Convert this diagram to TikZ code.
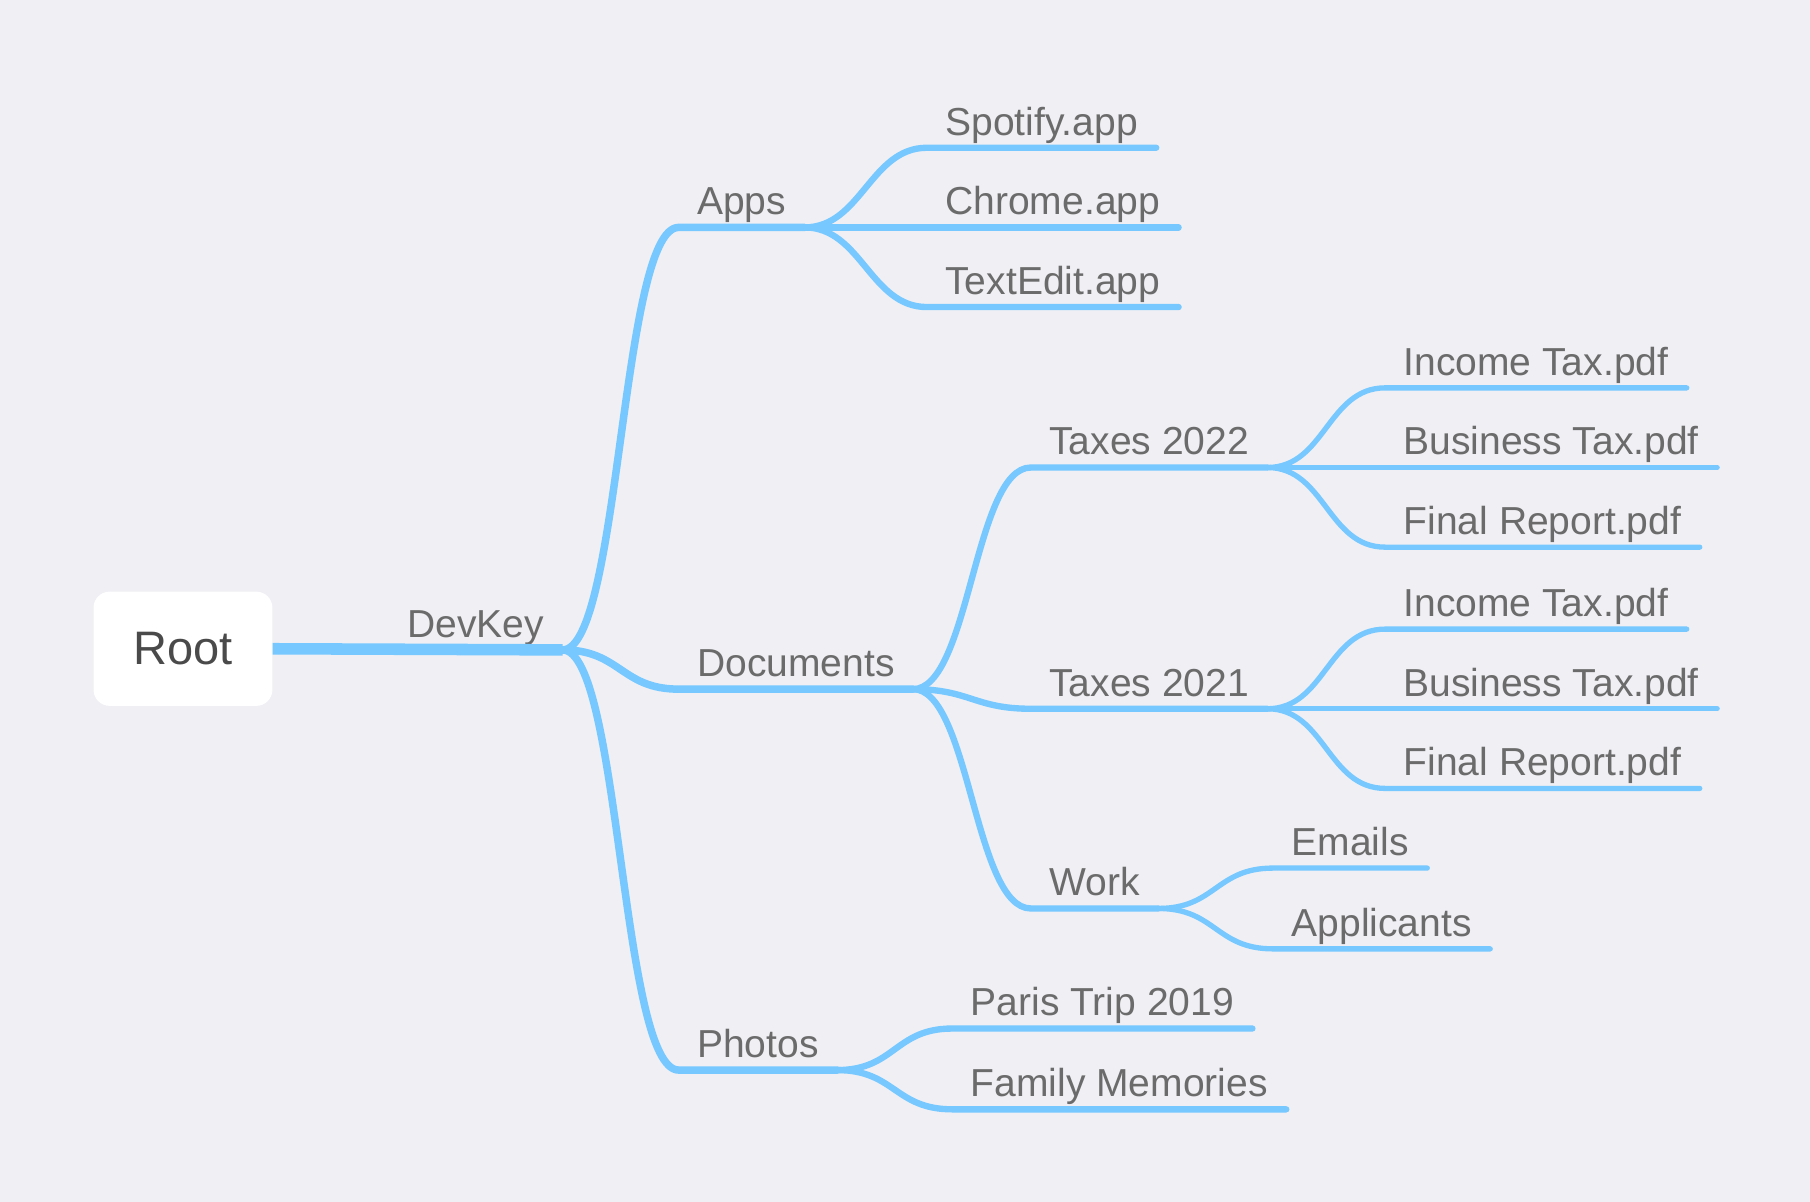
\documentclass[tikz,border=0pt]{standalone}
\usepackage{fontspec}
\setmainfont{Liberation Sans}
\usepackage{xcolor}
\usepackage{tikz}
\usetikzlibrary{calc}

\definecolor{bgcol}{HTML}{EFEFF4}
\definecolor{linkblue}{HTML}{76C8FF}
\definecolor{txtgray}{HTML}{6B6B6B}
\definecolor{rootgray}{HTML}{4A4A4A}

\tikzset{
  lbl/.style={anchor=south west, inner xsep=16pt, inner ysep=11pt, outer sep=0pt,
              text depth=0pt, text=txtgray, font=\fontsize{33.8}{40}\selectfont},
  wone/.style={draw=linkblue, line width=10pt},
  wtwo/.style={draw=linkblue, line width=6.5pt, line cap=round},
  wthree/.style={draw=linkblue, line width=5.5pt, line cap=round},
  wfour/.style={draw=linkblue, line width=4.6pt, line cap=round},
}

\begin{document}
\begin{tikzpicture}[x=1pt,y=-1pt]
                        \fill [bgcol] (0,0) rectangle (1568,1041);
                        \useasboundingbox (0,0) rectangle (1568,1041);

                        % Root box
                        \node (root) [fill=white, rounded corners=14pt, minimum width=155pt, minimum height=99pt,
                              text=rootgray, font=\fontsize{40.7}{48}\selectfont] at (158.5,562) {Root};

                        % Labels, level 1 and 2
                        \node (devkey) [lbl] at (337,563) {DevKey};
                        \node (apps) [lbl] at (588,197) {Apps};
                        \node (docs) [lbl] at (588,597) {Documents};
                        \node (photos) [lbl] at (588,927) {Photos};

                        % Labels under Apps
                        \node (spotify) [lbl] at (803,128) {Spotify.app};
                        \node (chrome) [lbl] at (803,197) {Chrome.app};
                        \node (textedit) [lbl] at (803,266) {TextEdit.app};

                        % Labels under Documents
                        \node (taxa) [lbl] at (893,405) {Taxes 2022};
                        \node (taxb) [lbl] at (893,614) {Taxes 2021};
                        \node (work) [lbl] at (893,787) {Work};

                        % Labels under Taxes 2022
                        \node (incomea) [lbl] at (1200,336) {Income Tax.pdf};
                        \node (businessa) [lbl] at (1200,405) {Business Tax.pdf};
                        \node (finala) [lbl] at (1200,474) {Final Report.pdf};

                        % Labels under Taxes 2021
                        \node (incomeb) [lbl] at (1200,545) {Income Tax.pdf};
                        \node (businessb) [lbl] at (1200,614) {Business Tax.pdf};
                        \node (finalb) [lbl] at (1200,683) {Final Report.pdf};

                        % Labels under Work
                        \node (emails) [lbl] at (1103,752) {Emails};
                        \node (applicants) [lbl] at (1103,822) {Applicants};

                        % Labels under Photos
                        \node (paris) [lbl] at (825,891) {Paris Trip 2019};
                        \node (family) [lbl] at (825,961) {Family Memories};

                        % Drawing link Root - DevKey
                        \draw [wone] (root.east) -- (devkey.south east);

                        % Drawing links from DevKey
                        \foreach \n in {apps,docs,photos}
                          \draw [wtwo] (devkey.south east) .. controls +(50,0) and +(-50,0) .. (\n.south west) -- (\n.south east);

                        % Drawing links from Apps
                        \foreach \n in {spotify,chrome,textedit}
                          \draw [wthree] (apps.south east) .. controls +(49,0) and +(-49,0) .. (\n.south west) -- (\n.south east);

                        % Drawing links from Documents
                        \foreach \n in {taxa,taxb,work}
                          \draw [wthree] (docs.south east) .. controls +(49,0) and +(-49,0) .. (\n.south west) -- (\n.south east);

                        % Drawing links from Taxes 2022 and Taxes 2021
                        \foreach \n in {incomea,businessa,finala}
                          \draw [wfour] (taxa.south east) .. controls +(50,0) and +(-50,0) .. (\n.south west) -- (\n.south east);
                        \foreach \n in {incomeb,businessb,finalb}
                          \draw [wfour] (taxb.south east) .. controls +(50,0) and +(-50,0) .. (\n.south west) -- (\n.south east);

                        % Drawing links from Work
                        \foreach \n in {emails,applicants}
                          \draw [wfour] (work.south east) .. controls +(50,0) and +(-50,0) .. (\n.south west) -- (\n.south east);

                        % Drawing links from Photos
                        \foreach \n in {paris,family}
                          \draw [wthree] (photos.south east) .. controls +(50,0) and +(-50,0) .. (\n.south west) -- (\n.south east);
\end{tikzpicture}
\end{document}
